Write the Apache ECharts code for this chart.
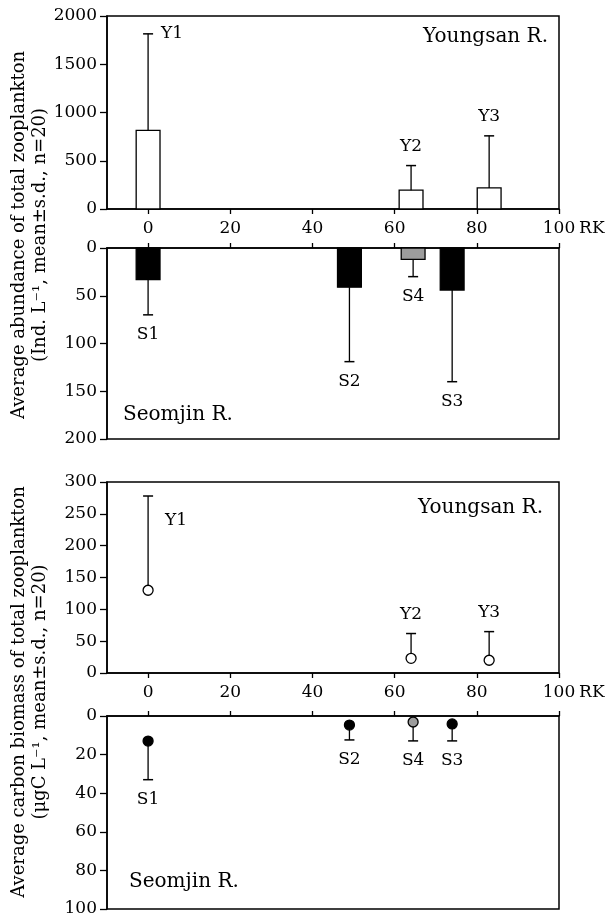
<!DOCTYPE html>
<html>
<head>
<meta charset="utf-8">
<script src="https://cdn.jsdelivr.net/npm/echarts@6/dist/echarts.min.js"></script>
<style>
  html, body { margin: 0; padding: 0; background: #fff; }
  #chart { width: 609px; height: 919px; }
</style>
</head>
<body>
<div id="chart"></div>
<script>
// Station positions along the river (river kilometre, RK)
const youngsanStations = ['Y1', 'Y2', 'Y3'];
const youngsanRK = [0, 64, 83];
const seomjinStations = ['S1', 'S2', 'S3', 'S4'];
const seomjinRK = [0, 49, 74, 64.5];

// Total zooplankton abundance (Ind. L-1), mean and s.d.
const youngsanAbundanceMean = [815, 195, 218];
const youngsanAbundanceSD = [1000, 255, 540];
const seomjinAbundanceMean = [33, 41, 44, 12];
const seomjinAbundanceSD = [37, 78, 96, 18];

// Total zooplankton carbon biomass (µgC L-1), mean and s.d.
const youngsanCarbonMean = [130, 23, 20];
const youngsanCarbonSD = [148, 39, 45];
const seomjinCarbonMean = [13, 4.7, 4.1, 3.1];
const seomjinCarbonSD = [20, 7.7, 8.8, 9.8];

// Axis ticks
const rkTicks = [0, 20, 40, 60, 80, 100];
const abundanceUpTicks = { max: 2000, interval: 500 };
const abundanceDownTicks = { max: 200, interval: 50 };
const carbonUpTicks = { max: 300, interval: 50 };
const carbonDownTicks = { max: 100, interval: 20 };

// ---- drawing ----
const FONT = 'DejaVu Serif';
const INK = '#000';
const BAR_HALF = 2.9;   // half bar width in RK units
const CAP = 5;          // half width of error-bar caps, px
const seomjinFill = ['#000', '#000', '#000', '#9c9c9c'];
const youngsanFill = ['#fff', '#fff', '#fff'];

const chart = echarts.init(document.getElementById('chart'), null, { renderer: 'canvas' });

const grids = [
  { left: 107, right: 50, top: 16, height: 193 },
  { left: 107, right: 50, top: 248, height: 191 },
  { left: 107, right: 50, top: 482, height: 191 },
  { left: 107, right: 50, top: 716, height: 193 }
].map(g => Object.assign(g, { show: true, borderColor: INK, borderWidth: 1.5, backgroundColor: 'transparent' }));

function xAxisFor(i, withLabels) {
  return {
    type: 'value', gridIndex: i, min: -10, max: 100,
    position: withLabels ? 'bottom' : 'top',
    name: withLabels ? 'RK' : '',
    nameLocation: 'end', nameGap: 6,
    nameTextStyle: { color: INK, fontFamily: FONT, fontSize: 17, verticalAlign: 'top', padding: [11, 0, 0, 0] },
    axisLine: { show: true, onZero: false, lineStyle: { color: INK, width: 1.5 } },
    axisTick: { show: true, customValues: rkTicks, length: 5, lineStyle: { color: INK, width: 1.3 } },
    axisLabel: { show: withLabels, customValues: rkTicks, margin: 11, color: INK, fontFamily: FONT, fontSize: 17 },
    splitLine: { show: false }
  };
}

function yAxisFor(i, ticks, inverse) {
  return {
    type: 'value', gridIndex: i, min: 0, max: ticks.max, interval: ticks.interval, inverse: inverse,
    axisLine: { show: true, onZero: false, lineStyle: { color: INK, width: 1.5 } },
    axisTick: { show: true, length: 7, lineStyle: { color: INK, width: 1.3 } },
    axisLabel: { margin: 10, color: INK, fontFamily: FONT, fontSize: 17, formatter: v => String(v) },
    splitLine: { show: false }
  };
}

// place a station label relative to the end of its error bar
function labelAt(place, end, text) {
  const style = { text: text, fill: INK, font: '17px "' + FONT + '"', align: 'center', verticalAlign: 'middle' };
  let x = end[0], y = end[1];
  if (place === 'above') y -= 19;
  else if (place === 'below') y += 20;
  else if (place === 'capRight') { x += 13; style.align = 'left'; }
  else if (place === 'lineRight') { x += 17; y += 25; style.align = 'left'; }
  return { type: 'text', x: x, y: y, style: style };
}

function stationSeries(idx, kind, rk, mean, sd, names, fills, places) {
  return {
    type: 'custom', xAxisIndex: idx, yAxisIndex: idx,
    clip: false,
    data: rk.map((x, i) => [x, mean[i], sd[i], i]),
    encode: { x: 0, y: 1 },
    renderItem: function (params, api) {
      const x = api.value(0), m = api.value(1), s = api.value(2), i = api.value(3);
      const base = api.coord([x, m]);
      const end = api.coord([x, m + s]);
      const children = [];
      if (kind === 'bar') {
        const a = api.coord([x - BAR_HALF, 0]);
        const b = api.coord([x + BAR_HALF, m]);
        children.push({
          type: 'rect',
          shape: { x: Math.min(a[0], b[0]), y: Math.min(a[1], b[1]), width: Math.abs(b[0] - a[0]), height: Math.abs(b[1] - a[1]) },
          style: { fill: fills[i], stroke: INK, lineWidth: 1.3 }
        });
      }
      children.push({ type: 'line', shape: { x1: base[0], y1: base[1], x2: end[0], y2: end[1] }, style: { stroke: INK, lineWidth: 1.3 } });
      children.push({ type: 'line', shape: { x1: end[0] - CAP, y1: end[1], x2: end[0] + CAP, y2: end[1] }, style: { stroke: INK, lineWidth: 1.5 } });
      if (kind === 'point') {
        children.push({ type: 'circle', shape: { cx: base[0], cy: base[1], r: 5 }, style: { fill: fills[i], stroke: INK, lineWidth: 1.3 } });
      }
      children.push(labelAt(places[i], end, names[i]));
      return { type: 'group', children: children };
    }
  };
}

function riverName(text, x, y, align) {
  return { type: 'text', x: x, y: y, style: { text: text, fill: INK, font: '20px "' + FONT + '"', align: align, verticalAlign: 'middle' } };
}

function axisTitle(text, x, y) {
  return {
    type: 'text', x: x, y: y, rotation: Math.PI / 2,
    style: { text: text, fill: INK, font: '18px "' + FONT + '"', align: 'center', verticalAlign: 'middle', lineHeight: 21 }
  };
}

const option = {
  animation: false,
  backgroundColor: '#fff',
  grid: grids,
  xAxis: [xAxisFor(0, true), xAxisFor(1, false), xAxisFor(2, true), xAxisFor(3, false)],
  yAxis: [
    yAxisFor(0, abundanceUpTicks, false),
    yAxisFor(1, abundanceDownTicks, true),
    yAxisFor(2, carbonUpTicks, false),
    yAxisFor(3, carbonDownTicks, true)
  ],
  series: [
    stationSeries(0, 'bar', youngsanRK, youngsanAbundanceMean, youngsanAbundanceSD, youngsanStations, youngsanFill, ['capRight', 'above', 'above']),
    stationSeries(1, 'bar', seomjinRK, seomjinAbundanceMean, seomjinAbundanceSD, seomjinStations, seomjinFill, ['below', 'below', 'below', 'below']),
    stationSeries(2, 'point', youngsanRK, youngsanCarbonMean, youngsanCarbonSD, youngsanStations, youngsanFill, ['lineRight', 'above', 'above']),
    stationSeries(3, 'point', seomjinRK, seomjinCarbonMean, seomjinCarbonSD, seomjinStations, seomjinFill, ['below', 'below', 'below', 'below'])
  ],
  graphic: [
    riverName('Youngsan R.', 548, 37, 'right'),
    riverName('Seomjin R.', 123, 415, 'left'),
    riverName('Youngsan R.', 543, 508, 'right'),
    riverName('Seomjin R.', 129, 882, 'left'),
    axisTitle('Average abundance of total zooplankton\n(Ind. L\u207B\u00B9, mean\u00B1s.d., n=20)', 29.5, 235),
    axisTitle('Average carbon biomass of total zooplankton\n(\u03BCgC L\u207B\u00B9, mean\u00B1s.d., n=20)', 29.5, 692)
  ]
};

chart.setOption(option);
</script>
</body>
</html>
